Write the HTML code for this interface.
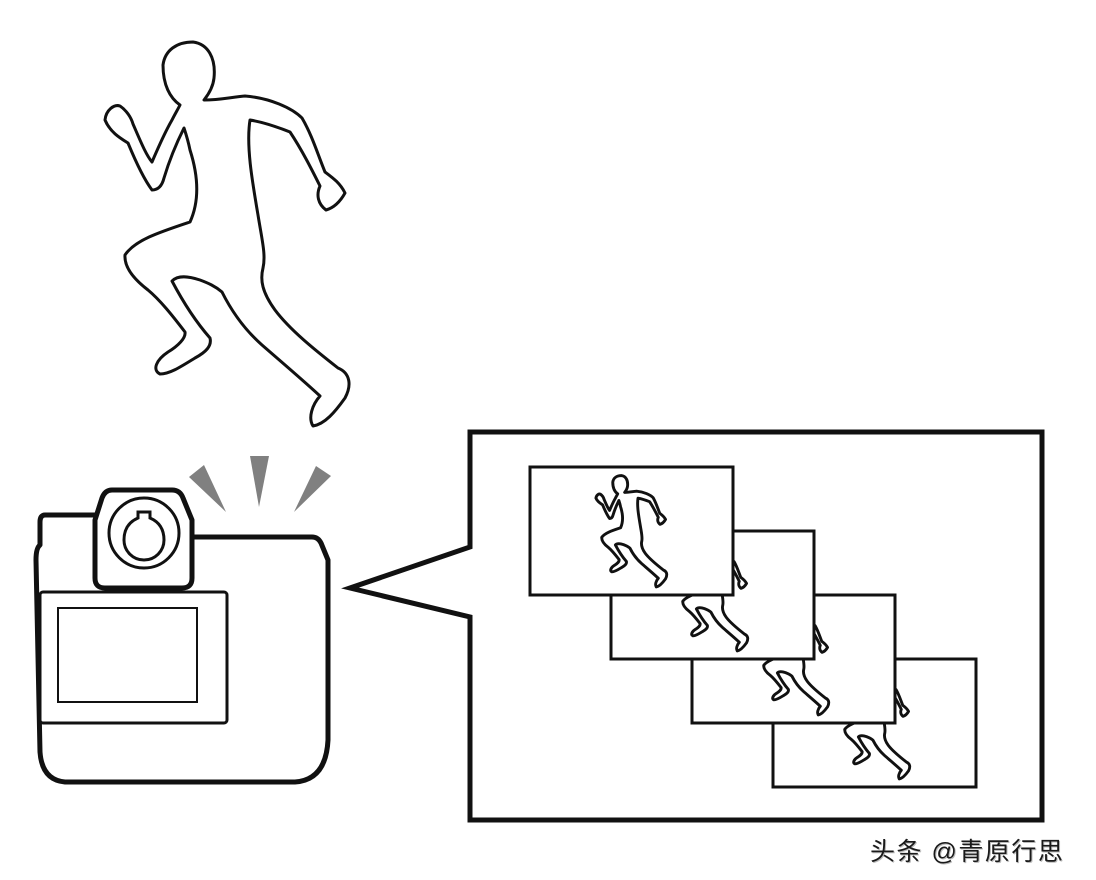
<!DOCTYPE html>
<html><head><meta charset="utf-8"><style>
html,body{margin:0;padding:0;background:#fff;width:1096px;height:880px;overflow:hidden}
svg{position:absolute;left:0;top:0}
.wm{position:absolute;left:870px;top:832px;font:25px "Liberation Sans","Noto Sans CJK SC",sans-serif;color:#1a1a1a;text-shadow:1px 1px 0 #bbb;letter-spacing:1.5px}
</style></head><body>
<svg width="1096" height="880" viewBox="0 0 1096 880">
<defs>
<path id="run" d="M180,105 C170,98 163,85 163,65 C165,50 177,42 193,42 C208,44 216,58 214,78 C213,88 208,95 204,100 C220,100 232,97 245,96 C270,98 292,108 302,118 C312,135 318,155 325,172 C333,178 340,183 345,193 C340,202 333,208 326,210 C318,204 316,195 320,186 C312,170 302,150 290,132 C275,126 262,122 250,120 C246,145 252,180 258,215 C262,240 266,255 263,268 C260,280 262,292 275,310 C290,330 315,350 338,368 C350,373 352,385 345,398 C335,412 325,424 313,426 C308,418 312,405 320,396 C305,382 285,365 262,345 C245,330 232,312 222,292 C215,286 208,283 200,280 C188,276 178,275 172,281 C182,300 196,322 210,338 C212,346 206,352 195,358 C182,366 170,374 160,374 C152,370 156,360 168,352 C178,346 186,338 185,332 C172,315 160,300 148,290 C135,280 124,268 125,255 C135,240 160,232 190,222 C200,200 198,175 190,150 C188,140 186,134 184,128 C178,140 170,158 164,178 C162,186 158,190 152,190 C143,178 135,160 128,143 C120,138 110,132 105,120 C106,110 114,104 120,106 C126,110 131,117 133,124 C140,140 146,155 152,162 C158,148 165,132 172,120 C175,114 178,109 180,105 Z"/>
</defs>
<use href="#run" fill="#fff" stroke="#111" stroke-width="3" stroke-linejoin="round"/>
<!-- flash rays -->
<polygon points="189,477 204,465 226,512" fill="#808080"/>
<polygon points="250,456 269,456 259,507" fill="#808080"/>
<polygon points="331,476 316,466 294,512" fill="#808080"/>
<!-- camera body -->
<path d="M45,515 L98,515 L98,537 L196,537 L312,537 Q318,537 321,543 L328,560 L328,740 Q326,780 295,782 L65,782 Q42,780 40,752 L36,560 Q36,548 40,545 L40,522 Q40,515 45,515 Z" fill="#fff" stroke="#111" stroke-width="5" stroke-linejoin="round"/>
<path d="M112,490 L172,490 Q180,490 183,498 L192,520 L192,578 Q192,588 182,588 L105,588 Q95,588 95,578 L95,520 L102,498 Q105,490 112,490 Z" fill="#fff" stroke="#111" stroke-width="5" stroke-linejoin="round"/>
<circle cx="144" cy="533" r="35" fill="none" stroke="#111" stroke-width="3"/>
<path d="M138,512 L150,512 L150,518 Q164,524 164,540 A20,20 0 1 1 124,540 Q124,524 138,518 Z" fill="none" stroke="#111" stroke-width="3"/>
<rect x="40" y="592" width="187" height="131" rx="3" fill="#fff" stroke="#111" stroke-width="3"/>
<rect x="58" y="608" width="139" height="94" fill="none" stroke="#111" stroke-width="2"/>
<!-- speech bubble -->
<path d="M470,547 L470,432 L1042,432 L1042,820 L470,820 L470,617 L350,588 Z" fill="#fff" stroke="#111" stroke-width="5" stroke-linejoin="miter"/>
<!-- frames -->
<g transform="translate(243,192)">
<rect x="530" y="467" width="203" height="128" fill="#fff" stroke="#111" stroke-width="3"/>
<use href="#run" transform="translate(565.5,463.4) scale(0.29)" fill="#fff" stroke="#111" stroke-width="10" stroke-linejoin="round"/>
</g>
<g transform="translate(162,128)">
<rect x="530" y="467" width="203" height="128" fill="#fff" stroke="#111" stroke-width="3"/>
<use href="#run" transform="translate(565.5,463.4) scale(0.29)" fill="#fff" stroke="#111" stroke-width="10" stroke-linejoin="round"/>
</g>
<g transform="translate(81,64)">
<rect x="530" y="467" width="203" height="128" fill="#fff" stroke="#111" stroke-width="3"/>
<use href="#run" transform="translate(565.5,463.4) scale(0.29)" fill="#fff" stroke="#111" stroke-width="10" stroke-linejoin="round"/>
</g>
<g>
<rect x="530" y="467" width="203" height="128" fill="#fff" stroke="#111" stroke-width="3"/>
<use href="#run" transform="translate(565.5,463.4) scale(0.29)" fill="#fff" stroke="#111" stroke-width="10" stroke-linejoin="round"/>
</g>
</svg>
<div class="wm">头条 @青原行思</div>
</body></html>
